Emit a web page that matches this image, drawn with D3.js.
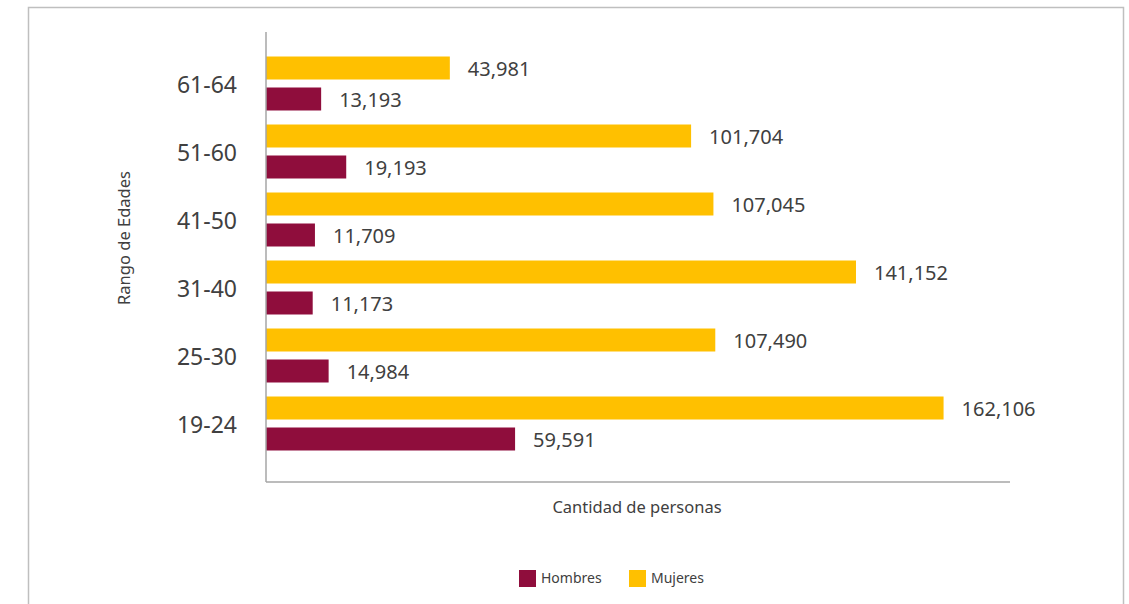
<!DOCTYPE html>
<html>
<head>
<meta charset="utf-8">
<script src="https://cdn.jsdelivr.net/npm/d3@7"></script>
<style>
  html, body { margin: 0; padding: 0; background: #ffffff; }
  svg { display: block; font-family: "Noto Sans", "Open Sans", sans-serif; }
</style>
</head>
<body>
<svg id="chart" width="1129" height="604"></svg>
<script>
// Age ranges, top to bottom
const ageGroups = ["61-64", "51-60", "41-50", "31-40", "25-30", "19-24"];
// Women per age range
const mujeres = [43981, 101704, 107045, 141152, 107490, 162106];
// Men per age range
const hombres = [13193, 19193, 11709, 11173, 14984, 59591];
const seriesNames = ["Mujeres", "Hombres"];
const legendOrder = ["Hombres", "Mujeres"];

const colors = { Hombres: "#8f0d3c", Mujeres: "#ffc000" };
const textColor = "#404040";
const axisColor = "#a6a6a6";

const svg = d3.select("#chart");

// Outer frame (bottom edge runs past the canvas)
svg.append("rect")
  .attr("x", 28.5).attr("y", 7.5)
  .attr("width", 1095).attr("height", 620)
  .attr("fill", "none")
  .attr("stroke", "#bfbfbf")
  .attr("stroke-width", 1.5);

const plot = { left: 266, right: 1010, top: 32, bottom: 482 };

const x = d3.scaleLinear().domain([0, 178000]).range([plot.left, plot.right]);

const y = d3.scaleBand()
  .domain(ageGroups)
  .range([49.5, 457.5])
  .paddingInner(0.206)
  .paddingOuter(0.103);

const ySub = d3.scaleBand()
  .domain(seriesNames)
  .range([0, y.bandwidth()])
  .paddingInner(0.258)
  .paddingOuter(0);

const rows = ageGroups.map((g, i) => ({
  group: g,
  values: [
    { series: "Mujeres", value: mujeres[i] },
    { series: "Hombres", value: hombres[i] }
  ]
}));

const groups = svg.append("g")
  .selectAll("g")
  .data(rows)
  .join("g")
  .attr("transform", d => `translate(0,${y(d.group)})`);

groups.selectAll("rect")
  .data(d => d.values)
  .join("rect")
  .attr("x", x(0))
  .attr("y", d => ySub(d.series))
  .attr("width", d => x(d.value) - x(0))
  .attr("height", ySub.bandwidth())
  .attr("fill", d => colors[d.series]);

const fmt = d3.format(",");
groups.selectAll("text.value")
  .data(d => d.values)
  .join("text")
  .attr("class", "value")
  .attr("x", d => x(d.value) + 18)
  .attr("y", d => ySub(d.series) + ySub.bandwidth() / 2)
  .attr("dy", "0.42em")
  .attr("font-size", 20)
  .attr("fill", textColor)
  .text(d => fmt(d.value));

// Category axis: labels only, with a plain vertical line
const yAxis = svg.append("g")
  .attr("transform", `translate(${plot.left},0)`)
  .call(d3.axisLeft(y).tickSize(0).tickPadding(29));
yAxis.select(".domain").remove();
yAxis.selectAll("text")
  .attr("dy", "0.42em")
  .attr("font-size", 23)
  .attr("font-family", "\"Noto Sans\", sans-serif")
  .attr("fill", textColor);

svg.append("line")
  .attr("x1", plot.left).attr("x2", plot.left)
  .attr("y1", plot.top).attr("y2", plot.bottom)
  .attr("stroke", axisColor).attr("stroke-width", 1.5);

svg.append("line")
  .attr("x1", plot.left).attr("x2", plot.right)
  .attr("y1", plot.bottom).attr("y2", plot.bottom)
  .attr("stroke", axisColor).attr("stroke-width", 1.5);

// Axis titles
svg.append("text")
  .attr("x", (plot.left + plot.right) / 2 - 1)
  .attr("y", 507)
  .attr("dy", "0.35em")
  .attr("text-anchor", "middle")
  .attr("font-size", 16.5)
  .attr("fill", textColor)
  .text("Cantidad de personas");

svg.append("text")
  .attr("transform", "translate(124,238) rotate(-90)")
  .attr("dy", "0.35em")
  .attr("text-anchor", "middle")
  .attr("font-size", 16.5)
  .attr("fill", textColor)
  .text("Rango de Edades");

// Legend
const legendX = { Hombres: 519, Mujeres: 629 };
const legend = svg.append("g")
  .selectAll("g")
  .data(legendOrder)
  .join("g")
  .attr("transform", d => `translate(${legendX[d]},570)`);
legend.append("rect")
  .attr("width", 17).attr("height", 17)
  .attr("fill", d => colors[d]);
legend.append("text")
  .attr("x", 22).attr("y", 8.5)
  .attr("dy", "0.35em")
  .attr("font-size", 14)
  .attr("fill", textColor)
  .text(d => d);
</script>
</body>
</html>
